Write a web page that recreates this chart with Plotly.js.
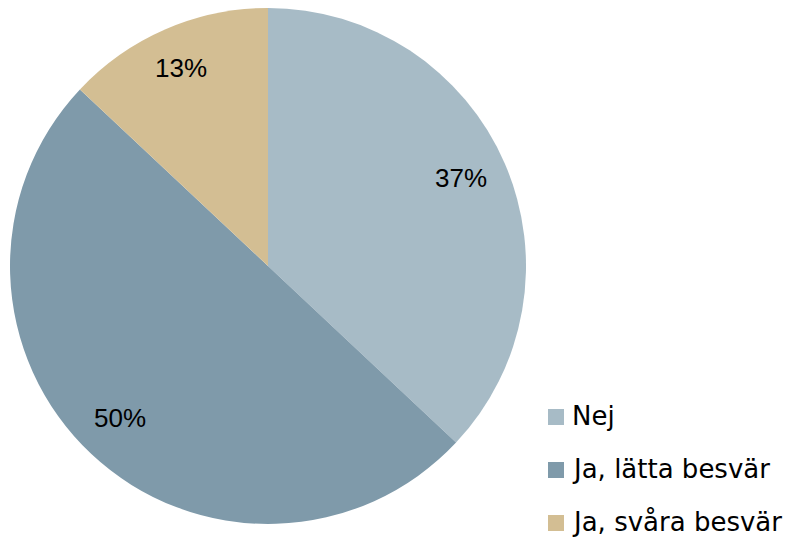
<!DOCTYPE html>
<html>
<head>
<meta charset="utf-8">
<script src="https://cdn.plot.ly/plotly-3.0.1.min.js"></script>
<style>html,body{margin:0;padding:0;background:#fff;}#chart{width:792px;height:537px;}</style>
</head>
<body>
<div id="chart"></div>
<script>
const categories = ["Nej", "Ja, lätta besvär", "Ja, svåra besvär"];
const values = [37, 50, 13];
const labelTexts = ["37%", "50%", "13%"];
const colors = ["#A7BBC6", "#7F9AAA", "#D3BE93"];

const W = 792, H = 537;
const cx = 268, cy = 266, R = 258;
const domX = [(cx - R) / W, (cx + R) / W];
const domY = [1 - (cy + R) / H, 1 - (cy - R) / H];

const total = values.reduce((a, b) => a + b, 0);
const annotations = [];
let cum = 0;
values.forEach((v, i) => {
  const mid = (cum + v / 2) / total * 2 * Math.PI;
  cum += v;
  const px = cx + 0.825 * R * Math.sin(mid) - 2;
  const py = cy - 0.825 * R * Math.cos(mid) - 3;
  annotations.push({
    x: px / W, y: 1 - py / H, xref: 'paper', yref: 'paper',
    text: labelTexts[i], showarrow: false,
    font: {family: 'Liberation Sans, Arial, sans-serif', size: 26, color: '#000'},
    xanchor: 'center', yanchor: 'middle'
  });
});

// custom legend
const shapes = [];
const legTop = 417, legGap = 53, sq = 16, sqX = 548, txtX = 570;
categories.forEach((c, i) => {
  const yc = legTop + i * legGap;
  shapes.push({type: 'rect', xref: 'paper', yref: 'paper',
    x0: sqX / W, x1: (sqX + sq) / W, y0: 1 - (yc + sq / 2) / H, y1: 1 - (yc - sq / 2) / H,
    fillcolor: colors[i], line: {width: 0}});
  annotations.push({x: txtX / W, y: 1 - (yc - 1) / H, xref: 'paper', yref: 'paper',
    text: c, showarrow: false, xanchor: 'left', yanchor: 'middle',
    font: {family: 'DejaVu Sans, sans-serif', size: 26, color: '#000'}});
});

const data = [{
  type: 'pie',
  labels: categories,
  values: values,
  marker: {colors: colors, line: {width: 0}},
  sort: false,
  direction: 'clockwise',
  rotation: 0,
  textinfo: 'none',
  hoverinfo: 'label+percent',
  showlegend: false,
  domain: {x: domX, y: domY}
}];

const layout = {
  width: W, height: H,
  margin: {l: 0, r: 0, t: 0, b: 0},
  paper_bgcolor: '#fff', plot_bgcolor: '#fff',
  showlegend: false,
  annotations: annotations,
  shapes: shapes
};
Plotly.newPlot('chart', data, layout, {displayModeBar: false, staticPlot: true});
</script>
</body>
</html>
